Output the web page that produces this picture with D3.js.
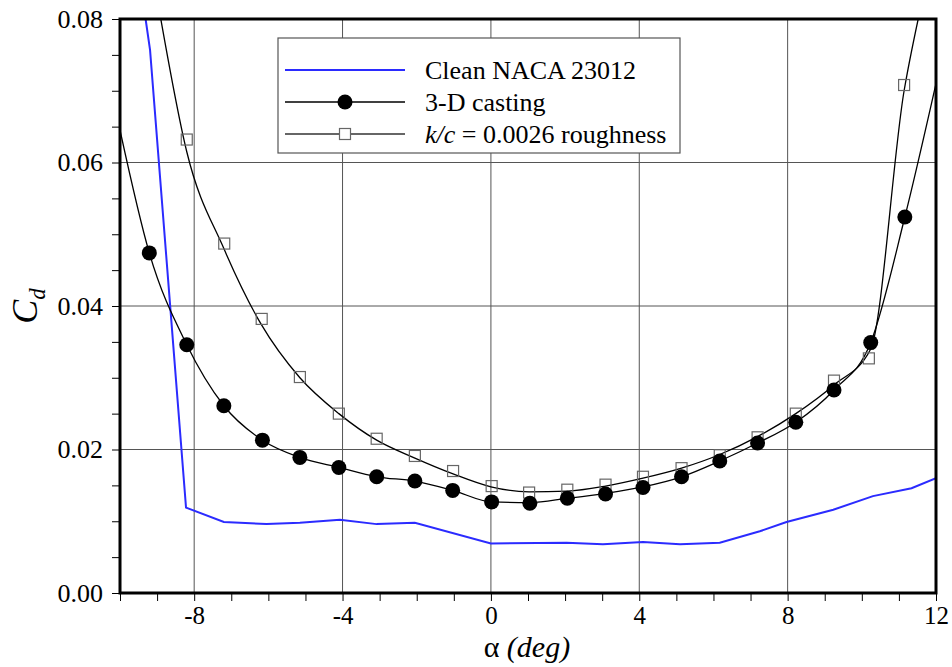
<!DOCTYPE html>
<html>
<head>
<meta charset="utf-8">
<script src="https://cdn.jsdelivr.net/npm/d3@7"></script>
<style>
  body { margin: 0; background: #fff; }
  text { font-family: "Liberation Serif", "Times New Roman", serif; }
</style>
</head>
<body>
<div id="chart"></div>
<script>
// Clean NACA 23012 (blue line)
var cleanAlpha = [-9.31, -9.19, -8.22, -7.2, -6.05, -5.15, -4.07, -3.08, -2.05, 0, 2.04, 3.02, 4.1, 5.1, 6.17, 7.25, 7.97, 9.23, 10.3, 11.34, 12];
var cleanCd    = [0.0800, 0.0757, 0.0119, 0.0099, 0.0096, 0.0098, 0.0102, 0.0096, 0.0098, 0.0069, 0.0070, 0.0068, 0.0071, 0.0068, 0.0070, 0.0086, 0.0099, 0.0116, 0.0135, 0.0146, 0.0160];

// 3-D casting measured points
var castAlpha = [-9.21, -8.2, -7.2, -6.16, -5.15, -4.1, -3.08, -2.05, -1.03, 0.02, 1.05, 2.06, 3.09, 4.1, 5.14, 6.17, 7.19, 8.22, 9.25, 10.24, 11.16];
var castCd    = [0.0474, 0.0346, 0.0261, 0.0213, 0.0189, 0.0175, 0.0162, 0.0156, 0.0143, 0.0127, 0.0125, 0.0132, 0.0138, 0.0147, 0.0162, 0.0184, 0.0209, 0.0238, 0.0283, 0.0349, 0.0524];
// 3-D casting fitted curve
var castFitAlpha = [-10, -9.21, -8.2, -7.2, -6.16, -5.15, -4.1, -3.08, -2.05, -1.03, 0.02, 1.05, 2.06, 3.09, 4.1, 5.14, 6.17, 7.19, 8.22, 9.25, 10.24, 11.16, 12];
var castFitCd    = [0.0645, 0.0474, 0.0346, 0.0261, 0.0213, 0.0189, 0.0175, 0.0162, 0.0156, 0.0143, 0.0127, 0.0126, 0.0132, 0.0139, 0.0148, 0.0162, 0.0184, 0.0209, 0.0238, 0.0283, 0.0349, 0.0524, 0.0710];

// k/c = 0.0026 roughness measured points
var roughAlpha = [-8.2, -7.19, -6.18, -5.15, -4.1, -3.08, -2.05, -1.02, 0.02, 1.03, 2.06, 3.09, 4.1, 5.14, 6.17, 7.19, 8.22, 9.25, 10.19, 11.14];
var roughCd    = [0.0632, 0.0487, 0.0382, 0.0301, 0.0250, 0.0215, 0.0191, 0.0170, 0.0149, 0.0140, 0.0144, 0.0151, 0.0162, 0.0174, 0.0192, 0.0217, 0.0250, 0.0296, 0.0327, 0.0708];
// roughness fitted curve
var roughFitAlpha = [-8.9, -8.2, -7.2, -6.2, -5.15, -4.1, -3.08, -2.05, -1.02, 0, 1.03, 2.06, 3.09, 4.1, 5.14, 6.17, 7.19, 8.22, 9.25, 10.24, 11.14, 11.52];
var roughFitCd    = [0.0800, 0.0615, 0.0480, 0.0375, 0.0300, 0.0250, 0.0213, 0.0188, 0.0166, 0.0148, 0.0141, 0.0142, 0.0149, 0.0160, 0.0174, 0.0193, 0.0218, 0.0250, 0.0290, 0.0340, 0.0700, 0.0800];

var xTicks = [-8, -4, 0, 4, 8, 12];
var yTicks = [0, 0.02, 0.04, 0.06, 0.08];
var legendLabels = ["Clean NACA 23012", "3-D casting", "k/c = 0.0026 roughness"];

var svgWidth = 952;
var svgHeight = 667;
var margin = { top: 19, right: 16, bottom: 74, left: 120 };
var width = svgWidth - margin.left - margin.right;
var height = svgHeight - margin.top - margin.bottom;

var svg = d3.select("#chart").append("svg")
    .attr("width", svgWidth)
    .attr("height", svgHeight);

var g = svg.append("g")
    .attr("transform", `translate(${margin.left}, ${margin.top})`);

var x = d3.scaleLinear().domain([-10, 12]).range([0, width]);
var y = d3.scaleLinear().domain([0, 0.08]).range([height, 0]);

// gridlines
g.append("g")
    .selectAll("line")
    .data(xTicks.filter(d => d < 12))
    .enter().append("line")
    .attr("x1", d => x(d)).attr("x2", d => x(d))
    .attr("y1", 0).attr("y2", height)
    .attr("stroke", "#555").attr("stroke-width", 1);
g.append("g")
    .selectAll("line")
    .data(yTicks.filter(d => d > 0 && d < 0.08))
    .enter().append("line")
    .attr("x1", 0).attr("x2", width)
    .attr("y1", d => y(d)).attr("y2", d => y(d))
    .attr("stroke", "#555").attr("stroke-width", 1);

// minor ticks
var xMinor = d3.axisBottom(x).tickValues(d3.range(-10, 12.01, 1)).tickSize(8).tickFormat("");
var yMinor = d3.axisLeft(y).tickValues(d3.range(0, 0.0801, 0.005)).tickSize(8).tickFormat("");
g.append("g").attr("transform", `translate(0, ${height})`).call(xMinor)
    .call(a => a.select(".domain").remove());
g.append("g").call(yMinor)
    .call(a => a.select(".domain").remove());

// tick labels
var xAxis = d3.axisBottom(x).tickValues(xTicks).tickSize(0).tickPadding(13).tickFormat(d => String(d));
var yAxis = d3.axisLeft(y).tickValues(yTicks).tickSize(0).tickPadding(17).tickFormat(d3.format(".2f"));
g.append("g").attr("transform", `translate(0, ${height})`).call(xAxis)
    .attr("font-family", "Liberation Serif")
    .attr("font-size", 25)
    .call(a => a.select(".domain").remove())
    .selectAll("text")
    .attr("fill", "#000");
g.append("g").call(yAxis)
    .attr("font-family", "Liberation Serif")
    .attr("font-size", 26)
    .call(a => a.select(".domain").remove())
    .selectAll("text")
    .attr("fill", "#000");
g.selectAll(".tick line").attr("stroke", "#000");

// clip for curves
g.append("clipPath").attr("id", "clip")
  .append("rect").attr("width", width).attr("height", height);

var line = d3.line()
    .x(d => x(d[0]))
    .y(d => y(d[1]));

var plot = g.append("g").attr("clip-path", "url(#clip)");

plot.append("path")
    .datum(d3.zip(cleanAlpha, cleanCd))
    .attr("fill", "none")
    .attr("stroke", "#2b2bff")
    .attr("stroke-width", 2)
    .attr("d", line);

plot.append("path")
    .datum(d3.zip(castFitAlpha, castFitCd))
    .attr("fill", "none")
    .attr("stroke", "#000")
    .attr("stroke-width", 1.3)
    .attr("d", line.curve(d3.curveMonotoneX));

plot.append("path")
    .datum(d3.zip(roughFitAlpha, roughFitCd))
    .attr("fill", "none")
    .attr("stroke", "#000")
    .attr("stroke-width", 1.3)
    .attr("d", line.curve(d3.curveMonotoneX));

// markers
plot.selectAll(".sq")
    .data(d3.zip(roughAlpha, roughCd))
    .enter().append("rect")
    .attr("class", "sq")
    .attr("x", d => x(d[0]) - 5.5)
    .attr("y", d => y(d[1]) - 5.5)
    .attr("width", 11).attr("height", 11)
    .attr("fill", "none")
    .attr("stroke", "#666")
    .attr("stroke-width", 1.2);

plot.selectAll(".dot")
    .data(d3.zip(castAlpha, castCd))
    .enter().append("circle")
    .attr("class", "dot")
    .attr("cx", d => x(d[0]))
    .attr("cy", d => y(d[1]))
    .attr("r", 7.5)
    .attr("fill", "#000");

// frame
g.append("rect")
    .attr("width", width).attr("height", height)
    .attr("fill", "none")
    .attr("stroke", "#000")
    .attr("stroke-width", 3);

// legend
var legend = g.append("g").attr("transform", "translate(158, 19)");
legend.append("rect")
    .attr("width", 402).attr("height", 115)
    .attr("fill", "#fff")
    .attr("stroke", "#555").attr("stroke-width", 1.2);

var rowY = [32, 64, 96];
var lc = ["#2b2bff", "#000", "#333"];
rowY.forEach(function(ry, i) {
    legend.append("line")
        .attr("x1", 7).attr("x2", 127)
        .attr("y1", ry).attr("y2", ry)
        .attr("stroke", lc[i])
        .attr("stroke-width", i === 0 ? 2 : 1.3);
});
legend.append("circle").attr("cx", 67).attr("cy", rowY[1]).attr("r", 7.5).attr("fill", "#000");
legend.append("rect").attr("x", 61.5).attr("y", rowY[2] - 5.5).attr("width", 11).attr("height", 11)
    .attr("fill", "#fff").attr("stroke", "#666").attr("stroke-width", 1.2);

legend.append("text").attr("x", 147).attr("y", rowY[0] + 9).attr("font-size", "26px").text(legendLabels[0]);
legend.append("text").attr("x", 147).attr("y", rowY[1] + 9).attr("font-size", "26px").text(legendLabels[1]);
var t3 = legend.append("text").attr("x", 147).attr("y", rowY[2] + 9).attr("font-size", "26px");
t3.append("tspan").attr("font-style", "italic").text("k/c");
t3.append("tspan").text(" = 0.0026 roughness");

// axis labels
var yl = svg.append("text")
    .attr("transform", `translate(37, ${margin.top + height / 2}) rotate(-90)`)
    .attr("text-anchor", "middle")
    .attr("font-size", "36px");
yl.append("tspan").attr("font-style", "italic").text("C");
yl.append("tspan").attr("font-style", "italic").attr("font-size", "23px").attr("dy", 8).text("d");

var xl = svg.append("text")
    .attr("x", margin.left + x(0) + 36)
    .attr("y", 657)
    .attr("text-anchor", "middle")
    .attr("font-size", "30px");
xl.append("tspan").text("α ");
xl.append("tspan").attr("font-style", "italic").text("(deg)");
</script>
</body>
</html>
